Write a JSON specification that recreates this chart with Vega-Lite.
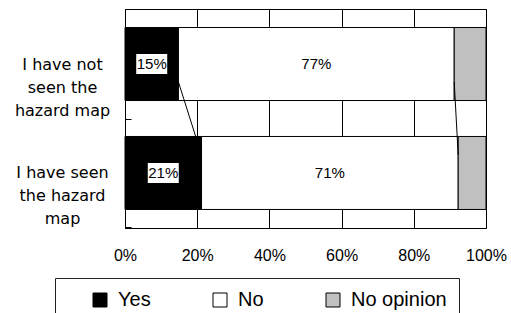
{
  "$schema": "https://vega.github.io/schema/vega-lite/v6.json",
  "width": 361,
  "height": 219,
  "autosize": {"type": "none"},
  "padding": {"left": 125, "top": 9, "right": 25, "bottom": 85},
  "background": "white",
  "config": {
    "view": {"stroke": "black", "strokeWidth": 1},
    "legend": {
      "orient": "none",
      "legendX": -70,
      "legendY": 269,
      "direction": "horizontal",
      "strokeColor": "#222",
      "padding": 12,
      "symbolType": "square",
      "symbolSize": 196,
      "symbolStrokeColor": "black",
      "symbolStrokeWidth": 1,
      "symbolOffset": 23,
      "labelFont": "Liberation Sans",
      "labelFontSize": 20,
      "labelColor": "black",
      "labelOffset": 8,
      "labelLimit": 300,
      "columnPadding": 36
    }
  },
  "data": {
    "values": [
      {"group": "I have not seen the hazard map", "answer": "Yes", "pct": 14.8, "label": "15%", "rank": 1},
      {"group": "I have not seen the hazard map", "answer": "No", "pct": 76.4, "label": "77%", "rank": 2},
      {"group": "I have not seen the hazard map", "answer": "No opinion", "pct": 8.8, "label": "", "rank": 3},
      {"group": "I have seen the hazard map", "answer": "Yes", "pct": 21.2, "label": "21%", "rank": 1},
      {"group": "I have seen the hazard map", "answer": "No", "pct": 71.1, "label": "71%", "rank": 2},
      {"group": "I have seen the hazard map", "answer": "No opinion", "pct": 7.7, "label": "", "rank": 3}
    ]
  },
  "resolve": {"scale": {"y": "independent"}, "axis": {"y": "independent"}},
  "layer": [
    {
      "layer": [
        {
          "mark": {"type": "bar", "stroke": "black", "strokeWidth": 1},
          "encoding": {
            "y": {
              "field": "group",
              "type": "nominal",
              "sort": ["I have not seen the hazard map", "I have seen the hazard map"],
              "scale": {"paddingInner": 0.33, "paddingOuter": 0.17},
              "title": null,
              "axis": {
                "domain": true,
                "domainColor": "black",
                "ticks": true,
                "tickColor": "black",
                "tickSize": -6,
                "bandPosition": 1,
                "tickOffset": 18,
                "labelOffset": -18,
                "labelFont": "DejaVu Sans",
                "labelFontSize": 16,
                "labelColor": "black",
                "labelAlign": "center",
                "labelBaseline": "middle",
                "labelLineHeight": 23,
                "labelPadding": 69,
                "labelLimit": 200,
                "labelExpr": "datum.value == 'I have not seen the hazard map' ? ['I have not', 'seen the', 'hazard map'] : ['I have seen', 'the hazard', 'map']",
                "grid": false
              }
            },
            "x": {
              "field": "pct",
              "type": "quantitative",
              "stack": "zero",
              "scale": {"domain": [0, 100], "nice": false},
              "title": null,
              "axis": {
                "values": [0, 20, 40, 60, 80, 100],
                "labelExpr": "datum.value + '%'",
                "grid": true,
                "gridColor": "black",
                "gridWidth": 1,
                "ticks": false,
                "domain": false,
                "labelFlush": false,
                "labelFont": "Liberation Sans",
                "labelFontSize": 16,
                "labelColor": "black",
                "labelPadding": 19
              }
            },
            "color": {
              "field": "answer",
              "type": "nominal",
              "scale": {"domain": ["Yes", "No", "No opinion"], "range": ["#000000", "#ffffff", "#c0c0c0"]},
              "legend": {"title": null, "labelExpr": "datum.label == 'No opinion' ? 'No opinion      ' : datum.label"}
            },
            "order": {"field": "rank", "type": "quantitative"}
          }
        },
        {
          "transform": [{"filter": "datum.answer == 'Yes'"}],
          "mark": {"type": "point", "shape": "M-1.55,-1H1.55V1H-1.55Z", "filled": true, "fill": "white", "opacity": 1, "size": 400, "strokeWidth": 0},
          "encoding": {
            "x": {"field": "pct", "type": "quantitative", "stack": "zero", "bandPosition": 0.5, "title": null},
            "y": {"field": "group", "type": "nominal", "sort": ["I have not seen the hazard map", "I have seen the hazard map"], "title": null},
            "detail": {"field": "answer"},
            "order": {"field": "rank", "type": "quantitative"}
          }
        },
        {
          "mark": {"type": "text", "font": "Liberation Sans", "fontSize": 15, "color": "black", "baseline": "middle", "align": "center"},
          "encoding": {
            "x": {"field": "pct", "type": "quantitative", "stack": "zero", "bandPosition": 0.5, "title": null},
            "y": {"field": "group", "type": "nominal", "sort": ["I have not seen the hazard map", "I have seen the hazard map"], "title": null},
            "detail": {"field": "answer"},
            "order": {"field": "rank", "type": "quantitative"},
            "text": {"field": "label"}
          }
        }
      ]
    },
    {
      "transform": [
        {"stack": "pct", "groupby": ["group"], "sort": [{"field": "rank", "order": "ascending"}], "as": ["s0", "s1"]},
        {"filter": "datum.answer != 'No opinion'"}
      ],
      "mark": {"type": "line", "color": "black", "strokeWidth": 1},
      "encoding": {
        "x": {"field": "s1", "type": "quantitative", "title": null},
        "y": {
          "field": "group",
          "type": "nominal",
          "sort": ["I have not seen the hazard map", "I have seen the hazard map"],
          "scale": {"type": "point", "padding": 2.46},
          "axis": null,
          "title": null
        },
        "detail": {"field": "answer"}
      }
    }
  ]
}
